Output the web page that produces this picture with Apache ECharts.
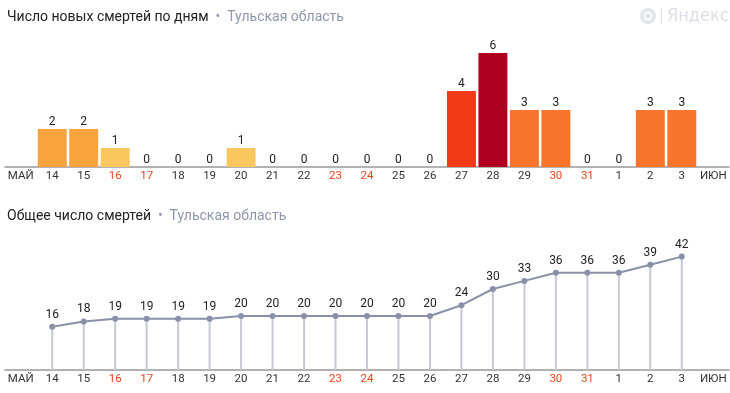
<!DOCTYPE html>
<html><head><meta charset="utf-8">
<script src="https://cdn.jsdelivr.net/npm/echarts@6/dist/echarts.min.js"></script>
<style>html,body{margin:0;padding:0;background:#fff}#c{width:730px;height:393px}</style>
</head><body><div id="c"></div>
<script>
const categories = ['МАЙ','14','15','16','17','18','19','20','21','22','23','24','25','26','27','28','29','30','31','1','2','3','ИЮН'];
const weekend = ['16','17','23','24','30','31'];
const dailyDeaths = [null,2,2,1,0,0,0,1,0,0,0,0,0,0,4,6,3,3,0,0,3,3,null];
const totalDeaths = [null,16,18,19,19,19,19,20,20,20,20,20,20,20,24,30,33,36,36,36,39,42,null];
const barColors = {0:'#F8A33B',1:'#FAC75E',2:'#F8A33B',3:'#F9752B',4:'#F03B16',6:'#B0001F'};

const FONT = 'Roboto';
function axisLabel(){
  return {
    fontFamily: FONT, fontSize: 11.5, margin: 3, interval: 0,
    color: function(v){ return weekend.indexOf(v) >= 0 ? '#F0421D' : '#333'; }
  };
}
function xAxis(gi){
  return {
    type:'category', gridIndex: gi, data: categories,
    axisLine:{lineStyle:{color:'#999', width:1.5}},
    axisTick:{show:false}, axisLabel: axisLabel(), boundaryGap:true
  };
}
const chart = echarts.init(document.getElementById('c'));
chart.setOption({
  animation:false,
  title:[
    {text:'Число новых смертей по дням{g|  •  Тульская область}', left:7, top:10, padding:0,
     textStyle:{fontFamily:FONT, fontSize:14, fontWeight:'normal', color:'#222',
       rich:{g:{fontFamily:FONT, fontSize:14, color:'#9096B0'}}}},
    {text:'Общее число смертей{g|  •  Тульская область}', left:7, top:209, padding:0,
     textStyle:{fontFamily:FONT, fontSize:14, fontWeight:'normal', color:'#222',
       rich:{g:{fontFamily:FONT, fontSize:14, color:'#9096B0'}}}}
  ],
  graphic:[
    {type:'circle', shape:{cx:648, cy:16, r:8}, style:{fill:'#E3E3EA'}},
    {type:'circle', shape:{cx:648, cy:16, r:4.5}, style:{fill:'#fff'}},
    {type:'circle', shape:{cx:648, cy:16, r:2.8}, style:{fill:'#E3E3EA'}},
    {type:'rect', shape:{x:661, y:8, width:1, height:16}, style:{fill:'#E3E3EA'}},
    {type:'text', x:667, y:16, style:{text:'Яндекс', fontFamily:'Liberation Sans Narrow, DejaVu Sans Condensed, Roboto', fontSize:18, fill:'#DEDEE6', verticalAlign:'middle'}}
  ],
  grid:[
    {left:5, right:1, top:53, bottom:226},
    {left:5, right:1, top:256.6, bottom:23}
  ],
  xAxis:[xAxis(0), xAxis(1)],
  yAxis:[
    {type:'value', gridIndex:0, min:0, max:6, show:false, splitLine:{show:false}},
    {type:'value', gridIndex:1, min:0, max:42, show:false, splitLine:{show:false}}
  ],
  series:[
    {type:'bar', xAxisIndex:0, yAxisIndex:0, data: dailyDeaths, barCategoryGap:'8%',
     itemStyle:{color:function(p){return barColors[p.value] || '#F8A33B';}},
     label:{show:true, position:'top', distance:1, fontFamily:FONT, fontSize:12, color:'#222',
       formatter:function(p){return p.value==null?'':String(p.value);}}},
    {type:'bar', xAxisIndex:1, yAxisIndex:1, data: totalDeaths, barWidth:2,
     itemStyle:{color:'#C6C9D5'}, silent:true},
    {type:'line', xAxisIndex:1, yAxisIndex:1, data: totalDeaths, symbol:'circle', symbolSize:6,
     lineStyle:{color:'#8A90A8', width:2}, itemStyle:{color:'#8A90A8'},
     label:{show:true, position:'top', distance:3, fontFamily:FONT, fontSize:12, color:'#222'}}
  ]
});
</script></body></html>
